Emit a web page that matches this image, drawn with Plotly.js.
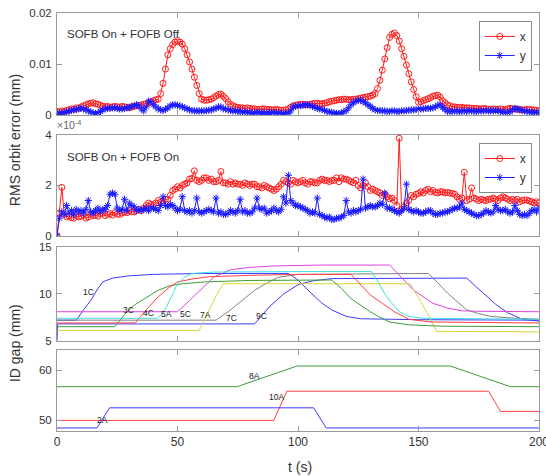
<!DOCTYPE html>
<html>
<head>
<meta charset="utf-8">
<script src="https://cdn.plot.ly/plotly-3.0.1.min.js"></script>
<style>html,body{margin:0;padding:0;background:#fff;}#chart{width:546px;height:476px;}</style>
</head>
<body>
<div id="chart"></div>
<script>
// ---- time grid for the RMS panels (seconds, 1 s step) ----
const tGrid = Array.from({length: 201}, (_, i) => i);

// ---- Panel 1: SOFB On + FOFB Off, RMS orbit error (mm) ----
const rmsOffX = [
  0.0007,0.0006,0.0008,0.0007,0.0009,0.0010,0.0012,0.0011,0.0014,0.0013,
  0.0016,0.0018,0.0020,0.0022,0.0023,0.0024,0.0022,0.0021,0.0019,0.0017,
  0.0016,0.0017,0.0015,0.0016,0.0017,0.0016,0.0015,0.0017,0.0016,0.0015,
  0.0014,0.0016,0.0017,0.0018,0.0019,0.0020,0.0021,0.0022,0.0024,0.0026,
  0.0028,0.0030,0.0031,0.0042,0.0062,0.0090,0.0118,0.0130,0.0138,0.0143,
  0.0146,0.0143,0.0139,0.0130,0.0118,0.0104,0.0090,0.0074,0.0058,0.0042,
  0.0031,0.0029,0.0029,0.0030,0.0031,0.0034,0.0037,0.0040,0.0041,0.0037,
  0.0032,0.0026,0.0021,0.0018,0.0016,0.0015,0.0014,0.0014,0.0013,0.0014,
  0.0013,0.0012,0.0012,0.0011,0.0011,0.0012,0.0012,0.0011,0.0011,0.0010,
  0.0010,0.0011,0.0010,0.0009,0.0009,0.0010,0.0012,0.0015,0.0018,0.0019,
  0.0020,0.0021,0.0021,0.0020,0.0020,0.0021,0.0022,0.0023,0.0023,0.0022,
  0.0022,0.0023,0.0024,0.0026,0.0027,0.0028,0.0029,0.0030,0.0030,0.0031,
  0.0031,0.0030,0.0030,0.0031,0.0031,0.0032,0.0033,0.0034,0.0035,0.0036,
  0.0037,0.0039,0.0042,0.0052,0.0068,0.0088,0.0110,0.0132,0.0152,0.0158,
  0.0161,0.0156,0.0145,0.0130,0.0115,0.0098,0.0081,0.0065,0.0050,0.0036,
  0.0025,0.0026,0.0028,0.0030,0.0032,0.0034,0.0037,0.0038,0.0039,0.0035,
  0.0028,0.0024,0.0020,0.0018,0.0016,0.0016,0.0015,0.0015,0.0015,0.0014,
  0.0014,0.0014,0.0013,0.0013,0.0013,0.0012,0.0012,0.0013,0.0012,0.0011,
  0.0011,0.0012,0.0011,0.0011,0.0012,0.0011,0.0010,0.0012,0.0013,0.0012,
  0.0012,0.0011,0.0011,0.0010,0.0010,0.0011,0.0011,0.0010,0.0010,0.0009,
  0.0009
];
const rmsOffY = [
  0.0003,0.0003,0.0004,0.0005,0.0006,0.0007,0.0009,0.0010,0.0011,0.0012,
  0.0013,0.0012,0.0010,0.0008,0.0006,0.0004,0.0003,0.0004,0.0007,0.0010,
  0.0012,0.0013,0.0013,0.0014,0.0014,0.0013,0.0012,0.0012,0.0013,0.0014,
  0.0015,0.0017,0.0018,0.0020,0.0018,0.0012,0.0008,0.0016,0.0027,0.0026,
  0.0020,0.0016,0.0012,0.0010,0.0009,0.0011,0.0014,0.0018,0.0020,0.0020,
  0.0019,0.0018,0.0016,0.0014,0.0012,0.0010,0.0009,0.0008,0.0008,0.0008,
  0.0008,0.0008,0.0009,0.0009,0.0010,0.0012,0.0013,0.0016,0.0016,0.0012,
  0.0012,0.0010,0.0009,0.0008,0.0008,0.0007,0.0007,0.0006,0.0006,0.0005,
  0.0005,0.0004,0.0004,0.0005,0.0005,0.0004,0.0004,0.0004,0.0004,0.0005,
  0.0005,0.0004,0.0004,0.0003,0.0003,0.0003,0.0004,0.0008,0.0016,0.0017,
  0.0018,0.0018,0.0019,0.0020,0.0020,0.0019,0.0017,0.0015,0.0013,0.0012,
  0.0011,0.0009,0.0007,0.0006,0.0005,0.0004,0.0003,0.0003,0.0004,0.0006,
  0.0009,0.0014,0.0020,0.0024,0.0027,0.0029,0.0029,0.0026,0.0024,0.0020,
  0.0017,0.0013,0.0010,0.0009,0.0009,0.0008,0.0008,0.0007,0.0007,0.0008,
  0.0008,0.0007,0.0007,0.0008,0.0008,0.0009,0.0009,0.0010,0.0010,0.0011,
  0.0011,0.0012,0.0012,0.0013,0.0013,0.0013,0.0014,0.0016,0.0019,0.0020,
  0.0015,0.0011,0.0007,0.0007,0.0007,0.0008,0.0007,0.0007,0.0007,0.0008,
  0.0007,0.0008,0.0008,0.0007,0.0007,0.0008,0.0008,0.0008,0.0009,0.0008,
  0.0008,0.0008,0.0009,0.0008,0.0007,0.0006,0.0005,0.0005,0.0006,0.0010,
  0.0013,0.0012,0.0010,0.0009,0.0008,0.0007,0.0006,0.0005,0.0005,0.0005,
  0.0005
];

// ---- Panel 2: SOFB On + FOFB On, RMS orbit error (in units of 1e-4 mm) ----
const rmsOnX = [
  0.00,0.90,1.92,0.85,0.75,0.78,0.72,0.70,0.80,0.75,
  0.78,0.82,0.70,0.74,0.85,0.80,0.82,0.78,0.88,0.90,
  0.80,0.85,0.88,0.82,0.92,0.86,0.85,0.90,0.95,0.92,
  1.00,0.95,0.95,1.00,1.05,1.00,1.10,1.20,1.30,1.25,
  1.20,1.30,1.40,1.35,1.38,1.45,1.45,1.60,1.80,1.85,
  1.95,1.90,2.00,2.05,2.10,2.25,2.28,2.58,2.20,2.15,
  2.20,2.30,2.30,2.20,2.25,2.15,2.15,2.20,2.55,2.10,
  2.10,2.05,2.15,2.05,2.10,2.05,2.05,2.00,2.10,2.05,
  2.00,2.05,2.05,1.95,1.95,1.90,2.00,1.95,1.90,1.85,
  1.80,1.85,1.95,2.05,2.20,2.15,2.10,2.05,2.20,2.15,
  2.10,2.15,2.20,2.10,2.05,2.15,2.15,2.10,2.10,2.20,
  2.25,2.20,2.20,2.15,2.20,2.20,2.30,2.15,2.30,2.25,
  2.25,2.20,2.15,2.10,2.20,2.00,1.90,2.00,2.10,1.95,
  1.80,1.85,1.80,1.75,1.70,1.60,1.65,1.55,1.47,1.50,
  1.40,1.20,3.87,1.05,1.15,1.30,1.40,1.60,1.55,1.65,
  1.68,1.75,1.70,1.80,1.85,1.75,1.80,1.72,1.70,1.75,
  1.75,1.70,1.72,1.70,1.68,1.65,1.55,1.45,1.50,2.52,
  1.40,1.45,1.90,1.50,1.45,1.40,1.45,1.42,1.40,1.45,
  1.45,1.50,1.45,1.40,1.50,1.55,1.50,1.45,1.40,1.45,
  1.40,1.45,1.35,1.40,1.42,1.42,1.38,1.35,1.30,1.35,
  1.30
];
const rmsOnY = [
  0.00,0.70,0.95,0.85,1.20,0.90,1.00,0.85,1.05,0.95,
  1.00,0.90,1.05,1.40,0.95,0.90,1.00,1.10,0.95,1.05,
  1.05,1.20,1.65,1.70,1.65,1.10,1.00,1.05,1.45,1.00,
  1.30,1.20,1.15,1.00,1.05,1.00,1.05,1.10,1.00,1.10,
  1.10,1.05,1.00,1.20,1.55,1.20,1.15,1.25,1.20,1.10,
  1.00,1.05,1.55,1.00,0.95,1.00,0.90,1.00,1.50,0.95,
  0.90,0.95,1.00,1.05,1.00,0.95,1.50,0.90,0.95,0.85,
  0.85,0.90,1.00,0.95,0.90,1.00,1.45,0.95,1.00,0.90,
  0.90,0.95,1.10,1.50,1.10,1.05,1.10,0.90,0.95,1.00,
  1.10,1.00,0.95,1.05,1.55,1.30,2.40,1.40,1.30,1.20,
  1.20,1.15,1.10,1.05,1.00,0.90,0.95,0.90,1.50,0.85,
  0.80,0.75,0.70,0.75,0.65,0.65,0.70,0.70,0.75,0.80,
  1.40,0.95,0.90,1.00,0.95,1.00,1.05,2.25,1.10,1.15,
  1.20,1.15,1.15,1.20,1.30,1.25,1.70,1.10,1.10,1.05,
  1.00,0.95,0.90,1.00,1.10,2.05,1.05,1.00,0.95,1.00,
  0.95,0.90,0.90,0.95,1.00,1.00,0.90,0.85,0.85,0.90,
  0.90,0.95,0.95,1.00,1.05,1.10,1.10,1.15,1.30,1.05,
  1.00,0.95,0.90,0.85,0.80,0.80,0.85,0.90,1.00,0.95,
  0.90,0.95,1.20,1.05,1.00,1.00,1.05,0.95,0.90,0.95,
  1.20,1.00,0.85,0.80,0.85,0.80,0.90,1.00,1.05,0.95,
  1.10
];

// ---- Panel 3: ID gap (mm), small-gap undulators ----
const gapNames  = ['1C','9C','5C','7C','7A','3C','4C','5A'];
const gapColors = ['#3a3aff','#3a3aff','#e040e0','#808080','#d6d63a','#3c9c3c','#ff4040','#40dede'];
const gapT = [
  [0,8,11,14,17,19,23,30,40,60,96,100,105,110,114,120,126,150,200],
  [0,0.3,82,88,94,100,106,114,170,174,178,182,187,193,200],
  [0,50,55,60,65,72,80,90,110,138,143,148,156,162,168,175,200],
  [0,66,72,77,82,88,92,100,154,158,162,166,170,175,180,190,200],
  [0,59,63,66,69,100,146.5,150,154,157.5,200],
  [0,24,28,32,37,42,47,52,62,80,114,118,122,126,130,134,138,146,160,200],
  [0,32.5,37,42,46,50,56,63,80,100,122,126,130,135,140,146,155,200],
  [0,41.5,44,46,48,50,53,56,65,100,130.5,133,136,139,142,146,152,200]
];
const gapV = [
  [7.2,7.2,8.3,9.3,10.6,11.3,11.7,11.95,12.1,12.2,12.2,11.5,10.2,9.0,8.3,7.6,7.35,7.25,7.2],
  [5.0,6.8,6.8,8.6,10.0,11.0,11.4,11.65,11.7,10.8,9.8,8.9,8.0,7.3,7.1],
  [8.1,8.1,9.3,10.6,11.8,12.6,12.85,13.0,13.1,13.1,11.8,10.4,9.0,8.5,8.2,8.15,8.1],
  [7.2,7.2,8.3,9.4,10.4,11.3,11.8,12.1,12.2,11.2,10.1,9.2,8.3,7.9,7.6,7.4,7.3],
  [6.1,6.1,8.2,9.8,11.1,11.1,11.1,9.6,7.8,6.0,5.95],
  [6.5,6.5,7.8,8.8,9.6,10.4,10.9,11.1,11.3,11.45,11.5,10.6,9.5,8.8,8.1,7.5,7.0,6.7,6.55,6.5],
  [6.9,6.9,8.3,9.7,10.6,11.3,11.6,11.85,12.0,12.1,12.1,11.0,9.9,9.0,8.1,7.3,7.0,6.9],
  [7.4,7.4,7.9,8.9,10.0,11.1,11.8,12.2,12.35,12.4,12.4,11.4,10.0,9.0,8.1,7.6,7.4,7.3]
];
const gapLabelT = [13.1,85,53.2,72.6,61.5,29.7,38,45.6];
const gapLabelV = [10.2,7.6,7.9,7.4,7.7,8.3,8.0,7.9];

// ---- Panel 4: ID gap (mm), large-gap undulators ----
const bigNames  = ['8A','10A','2A'];
const bigColors = ['#3c9c3c','#ff4040','#3a3aff'];
const bigT = [
  [0,74.7,99.6,163.2,188.1,200],
  [0,89.9,95.4,179.1,184,200],
  [0,16.6,21.8,106.5,111.7,200]
];
const bigV = [
  [56.7,56.7,60.8,60.8,56.7,56.7],
  [50.0,50.0,55.8,55.8,51.8,51.8],
  [48.5,48.5,52.5,52.5,48.5,48.5]
];
const bigLabelT = [82,91,18.7];
const bigLabelV = [58.9,54.7,50.0];

const xTicks = [0,50,100,150,200];

// ---------------- build ----------------
const FONT = '"Liberation Sans", Arial, sans-serif';
const TXT = '#333333';
const AX = '#9a9a9a';
const RED = '#ff1a1a', BLUE = '#1a1aff';

const traces = [];
function rmsPair(xs, ys, xa, ya, leg) {
  traces.push({x: tGrid, y: xs, xaxis: xa, yaxis: ya, name: 'x', legend: leg,
    type: 'scatter', mode: 'lines+markers',
    line: {color: RED, width: 1}, marker: {symbol: 'circle-open', size: 6, color: RED, line: {width: 1, color: RED}}});
  traces.push({x: tGrid, y: ys, xaxis: xa, yaxis: ya, name: 'y', legend: leg,
    type: 'scatter', mode: 'lines+markers',
    line: {color: BLUE, width: 1}, marker: {symbol: 'asterisk-open', size: 6, color: BLUE, line: {width: 1, color: BLUE}}});
}
rmsPair(rmsOffX, rmsOffY, 'x', 'y', 'legend');
rmsPair(rmsOnX, rmsOnY, 'x2', 'y2', 'legend2');

gapNames.forEach((n, i) => traces.push({x: gapT[i], y: gapV[i], xaxis: 'x3', yaxis: 'y3', name: n,
  type: 'scatter', mode: 'lines', line: {color: gapColors[i], width: 1}, showlegend: false}));
bigNames.forEach((n, i) => traces.push({x: bigT[i], y: bigV[i], xaxis: 'x4', yaxis: 'y4', name: n,
  type: 'scatter', mode: 'lines', line: {color: bigColors[i], width: 1}, showlegend: false}));

function xax(anchor, labels) {
  return {anchor: anchor, domain: [0, 1], range: [0, 200], tickvals: xTicks, ticktext: xTicks.map(String),
    showticklabels: labels, ticks: 'inside', ticklen: 5, tickcolor: AX, showline: true, linecolor: AX,
    linewidth: 1, mirror: 'ticks', showgrid: false, zeroline: false, ticklabeloverflow: 'allow',
    tickfont: {family: FONT, size: 12, color: TXT}};
}
function yax(anchor, domain, range, tv, tt) {
  return {anchor: anchor, domain: domain, range: range, tickvals: tv, ticktext: tt,
    ticks: 'inside', ticklen: 5, tickcolor: AX, showline: true, linecolor: AX, linewidth: 1,
    mirror: 'ticks', showgrid: false, zeroline: false, ticklabelstandoff: 2, ticklabeloverflow: 'allow',
    tickfont: {family: FONT, size: 11.5, color: TXT}};
}

const annotations = [];
function note(text, x, y, xref, yref, size, extra) {
  annotations.push(Object.assign({text: text, x: x, y: y, xref: xref, yref: yref, showarrow: false,
    font: {family: FONT, size: size, color: TXT}}, extra || {}));
}
note('SOFB On + FOFB Off', 0.0166, 0.95, 'paper', 'paper', 11.5, {xanchor: 'left', yanchor: 'middle'});
note('SOFB On + FOFB On', 0.0166, 0.656, 'paper', 'paper', 11.5, {xanchor: 'left', yanchor: 'middle'});
note('×10<sup>-4</sup>', -0.004, 0.733, 'paper', 'paper', 10.5, {xanchor: 'left', yanchor: 'middle', font: {family: FONT, size: 10.5, color: '#666'}});
note('RMS orbit error (mm)', -0.087, 0.696, 'paper', 'paper', 14,
  {textangle: -90, xanchor: 'center', yanchor: 'middle'});
note('ID gap (mm)', -0.087, 0.2105, 'paper', 'paper', 14,
  {textangle: -90, xanchor: 'center', yanchor: 'middle'});
note('t (s)', 0.504, -0.086, 'paper', 'paper', 14, {xanchor: 'center', yanchor: 'middle'});
gapNames.forEach((n, i) => note(n, gapLabelT[i], gapLabelV[i], 'x3', 'y3', 8.5, {font: {family: FONT, size: 8.5, color: '#222'}}));
bigNames.forEach((n, i) => note(n, bigLabelT[i], bigLabelV[i], 'x4', 'y4', 8.5, {font: {family: FONT, size: 8.5, color: '#222'}}));

const legendStyle = {bgcolor: '#fff', bordercolor: '#8a8a8a', borderwidth: 1, xanchor: 'right', yanchor: 'top',
  font: {family: FONT, size: 12, color: TXT}, tracegroupgap: 0, itemwidth: 30};

const layout = {
  width: 546, height: 476,
  margin: {l: 57, r: 7, t: 13, b: 45},
  paper_bgcolor: '#fff', plot_bgcolor: '#fff',
  showlegend: true,
  legend: Object.assign({x: 0.985, y: 0.981}, legendStyle),
  legend2: Object.assign({x: 0.985, y: 0.689}, legendStyle),
  xaxis: xax('y', false),
  xaxis2: xax('y2', false),
  xaxis3: xax('y3', false),
  xaxis4: xax('y4', true),
  yaxis: yax('x', [0.756, 1.0], [0, 0.02], [0, 0.01, 0.02], ['0', '0.01', '0.02']),
  yaxis2: yax('x2', [0.467, 0.708], [0, 4], [0, 2, 4], ['0', '2', '4']),
  yaxis3: yax('x3', [0.216, 0.4395], [5, 15], [5, 10, 15], ['5', '10', '15']),
  yaxis4: yax('x4', [0, 0.194], [47.9, 64], [50, 60], ['50', '60']),
  annotations: annotations
};

Plotly.newPlot('chart', traces, layout, {displayModeBar: false, staticPlot: true});
</script>
</body>
</html>
